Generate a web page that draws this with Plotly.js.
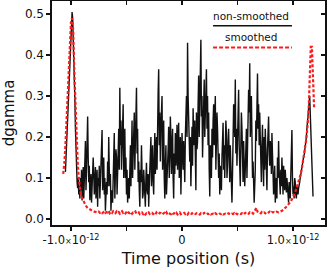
<!DOCTYPE html>
<html>
<head>
<meta charset="utf-8">
<script src="https://cdn.plot.ly/plotly-3.0.1.min.js"></script>
<style>html,body{margin:0;padding:0;background:#fff;}#chart{width:327px;height:268px;}</style>
</head>
<body>
<div id="chart"></div>
<script>
// Time positions in units of 1e-12 s (uniform sampling: start + step)
var rawStart = -1.05, rawStep = 0.005;
var smoothStart = -1.07, smoothStep = 0.01;

// non-smoothed dgamma
var rawValues = [
0.115,0.15,0.19,0.225,0.26,0.295,0.33,0.36,0.39,0.42,0.44,0.48,0.505,0.49,0.45,0.41,0.36,0.29,0.22,0.16,
0.12,0.09,0.075,0.1,0.06,0.08,0.05,0.1,0.07,0.12,0.045,0.08,0.127,0.05,0.08,0.14,0.19,0.07,0.12,0.2,
0.25,0.15,0.09,0.13,0.046,0.08,0.11,0.04,0.07,0.1,0.15,0.11,0.06,0.09,0.127,0.05,0.09,0.12,0.03,0.1,
0.08,0.13,0.05,0.09,0.12,0.16,0.217,0.07,0.11,0.15,0.06,0.1,0.02,0.05,0.09,0.06,0.14,0.08,0.20,0.12,
0.08,0.11,0.02,0.06,0.07,0.04,0.13,0.18,0.21,0.05,0.09,0.17,0.15,0.06,0.11,0.18,0.22,0.12,0.32,0.18,
0.24,0.12,0.2,0.25,0.28,0.1,0.17,0.22,0.1,0.15,0.06,0.12,0.04,0.08,0.1,0.05,0.14,0.18,0.08,0.16,
0.24,0.1,0.16,0.21,0.26,0.12,0.2,0.28,0.32,0.16,0.22,0.09,0.14,0.07,0.03,0.12,0.09,0.18,0.13,0.05,
0.06,0.12,0.09,0.05,0.03,0.1,0.137,0.07,0.06,0.11,0.03,0.08,0.12,0.16,0.2,0.08,0.14,0.18,0.09,0.06,
0.15,0.21,0.11,0.17,0.2,0.12,0.27,0.31,0.365,0.18,0.26,0.14,0.22,0.26,0.30,0.12,0.18,0.24,0.1,0.05,
0.13,0.18,0.06,0.09,0.12,0.17,0.225,0.1,0.15,0.25,0.2,0.11,0.17,0.22,0.1,0.05,0.16,0.11,0.21,0.13,
0.16,0.23,0.12,0.18,0.235,0.1,0.16,0.2,0.06,0.13,0.21,0.16,0.12,0.19,0.14,0.09,0.20,0.26,0.3,0.2,
0.43,0.3,0.25,0.17,0.14,0.2,0.08,0.15,0.225,0.13,0.27,0.2,0.18,0.24,0.13,0.07,0.26,0.17,0.19,0.28,
0.35,0.2,0.28,0.33,0.437,0.25,0.30,0.15,0.21,0.27,0.34,0.2,0.25,0.32,0.365,0.22,0.3,0.18,0.26,0.12,
0.055,0.18,0.14,0.1,0.22,0.15,0.24,0.28,0.18,0.24,0.30,0.12,0.18,0.26,0.22,0.15,0.10,0.16,0.06,0.13,
0.11,0.07,0.15,0.2,0.235,0.12,0.18,0.1,0.15,0.24,0.21,0.1,0.13,0.19,0.22,0.15,0.09,0.18,0.14,0.08,
0.04,0.11,0.17,0.28,0.25,0.2,0.34,0.16,0.22,0.13,0.19,0.26,0.315,0.18,0.13,0.08,0.18,0.26,0.22,0.14,
0.09,0.19,0.15,0.08,0.12,0.17,0.22,0.1,0.16,0.24,0.315,0.26,0.38,0.2,0.26,0.3,0.2,0.1,0.14,0.09,
0.04,0.08,0.12,0.24,0.19,0.27,0.355,0.22,0.28,0.18,0.26,0.2,0.15,0.09,0.18,0.23,0.14,0.08,0.2,0.12,
0.22,0.15,0.12,0.07,0.17,0.2,0.25,0.16,0.13,0.19,0.17,0.11,0.21,0.16,0.13,0.06,0.09,0.13,0.04,0.08,
0.1,0.05,0.15,0.1,0.19,0.12,0.09,0.06,0.12,0.08,0.15,0.1,0.06,0.13,0.11,0.07,0.12,0.09,0.065,0.1,
0.08,0.05,0.04,0.09,0.07,0.05,0.11,0.16,0.217,0.1,0.06,0.08,0.05,0.1,0.09,0.06,0.05,0.08,0.07,0.06,
0.075,0.08,0.09,0.1,0.11,0.12,0.125,0.13,0.14,0.15,0.155,0.165,0.175,0.19,0.2,0.22,0.24,0.26,0.285,0.295,
0.30,0.26,0.21,0.16,0.12,0.09,0.055
];

// smoothed dgamma
var smoothValues = [
0.11,0.135,0.18,0.235,0.30,0.37,0.43,0.48,0.49,0.46,
0.36,0.27,0.20,0.14,0.10,0.07,0.058,0.05,0.044,0.039,
0.034,0.030,0.027,0.025,0.023,0.021,0.020,0.019,0.018,0.017,
0.017,0.016,0.018,0.015,0.017,0.014,0.016,0.019,0.015,0.017,
0.016,0.020,0.014,0.017,0.015,0.019,0.016,0.014,0.018,0.015,
0.017,0.013,0.016,0.019,0.015,0.017,0.014,0.016,0.020,0.015,
0.014,0.017,0.013,0.016,0.015,0.018,0.013,0.015,0.016,0.012,
0.014,0.016,0.012,0.015,0.011,0.014,0.013,0.016,0.012,0.013,
0.015,0.012,0.014,0.011,0.016,0.013,0.012,0.015,0.014,0.011,
0.013,0.015,0.012,0.016,0.011,0.014,0.013,0.012,0.016,0.013,
0.014,0.012,0.015,0.011,0.013,0.016,0.012,0.014,0.013,0.015,
0.012,0.014,0.011,0.015,0.013,0.012,0.014,0.011,0.013,0.012,
0.014,0.012,0.013,0.011,0.014,0.012,0.013,0.015,0.012,0.011,
0.013,0.012,0.014,0.011,0.012,0.013,0.011,0.014,0.012,0.013,
0.011,0.013,0.012,0.014,0.011,0.012,0.013,0.011,0.012,0.014,
0.012,0.011,0.013,0.012,0.014,0.011,0.013,0.012,0.011,0.013,
0.012,0.014,0.011,0.013,0.015,0.012,0.014,0.013,0.016,0.014,
0.015,0.013,0.017,0.022,0.027,0.018,0.015,0.016,0.014,0.017,
0.015,0.016,0.014,0.017,0.015,0.016,0.018,0.015,0.017,0.016,
0.017,0.016,0.018,0.017,0.016,0.017,0.018,0.020,0.022,0.024,
0.027,0.030,0.033,0.036,0.039,0.043,0.048,0.053,0.059,0.066,
0.074,0.082,0.09,0.098,0.11,0.125,0.14,0.155,0.17,0.195,
0.225,0.26,0.34,0.42,0.42,0.33,0.27
];

var xTickVals = [-1, -0.5, 0, 0.5, 1];
var xTickText = ['-1.0<span style="font-size:8px">×</span>10<sup>-12</sup>', '', '0', '', '1.0<span style="font-size:8px">×</span>10<sup>-12</sup>'];
var yTickVals = [0, 0.1, 0.2, 0.3, 0.4, 0.5];
var yTickText = ['0.0', '0.1', '0.2', '0.3', '0.4', '0.5'];
var seriesNames = ['non-smoothed', 'smoothed'];

var FONT = 'DejaVu Sans, sans-serif';
var xRange = [-1.171, 1.288];
var yRange = [-0.0146, 0.5317];

var traces = [
  {x0: rawStart, dx: rawStep, y: rawValues, type: 'scatter', mode: 'lines',
   name: seriesNames[0], line: {color: '#111111', width: 1.4}, showlegend: false},
  {x0: smoothStart, dx: smoothStep, y: smoothValues, type: 'scatter', mode: 'lines',
   name: seriesNames[1], line: {color: '#ff1a1a', width: 2.2, dash: '3px,2px'}, showlegend: false},
  {x: [], y: [], xaxis: 'x2', yaxis: 'y2', type: 'scatter', showlegend: false, hoverinfo: 'skip'}
];

var layout = {
  width: 327, height: 268,
  margin: {l: 52, r: 2, t: 1, b: 43, pad: 0},
  paper_bgcolor: '#ffffff', plot_bgcolor: '#ffffff',
  font: {family: FONT, color: '#111111', size: 12},
  xaxis: {
    range: xRange, tickvals: xTickVals, ticktext: xTickText,
    ticks: 'outside', ticklen: 4, tickwidth: 1.3, tickcolor: '#111',
    showline: true, linecolor: '#111', linewidth: 1.6, mirror: true,
    showgrid: false, zeroline: false, tickfont: {size: 11.5, family: FONT},
    title: {text: 'Time position (s)', font: {size: 16, family: FONT}, standoff: 6}
  },
  yaxis: {
    range: yRange, tickvals: yTickVals, ticktext: yTickText,
    ticks: 'outside', ticklen: 4, tickwidth: 1.3, tickcolor: '#111',
    showline: true, linecolor: '#111', linewidth: 1.6, mirror: true,
    showgrid: false, zeroline: false, tickfont: {size: 12, family: FONT},
    title: {text: 'dgamma', font: {size: 15, family: FONT}, standoff: 8}
  },
  xaxis2: {
    overlaying: 'x', side: 'top', anchor: 'y2', range: xRange, tickvals: xTickVals,
    ticks: 'inside', ticklen: 4, tickwidth: 1.3, tickcolor: '#111',
    showticklabels: false, showgrid: false, zeroline: false, showline: false
  },
  yaxis2: {
    overlaying: 'y', side: 'right', anchor: 'x2', range: yRange, tickvals: yTickVals,
    ticks: 'inside', ticklen: 4, tickwidth: 1.3, tickcolor: '#111',
    showticklabels: false, showgrid: false, zeroline: false, showline: false
  },
  annotations: [
    {xref: 'paper', yref: 'paper', x: 0.73, y: 0.934, text: seriesNames[0], showarrow: false,
     font: {size: 10.5, family: FONT, color: '#111'}, xanchor: 'center', yanchor: 'middle'},
    {xref: 'paper', yref: 'paper', x: 0.73, y: 0.838, text: seriesNames[1], showarrow: false,
     font: {size: 10.5, family: FONT, color: '#111'}, xanchor: 'center', yanchor: 'middle'}
  ],
  shapes: [
    {type: 'line', xref: 'paper', yref: 'paper', x0: 0.590, x1: 0.879, y0: 0.890, y1: 0.890,
     line: {color: '#111', width: 1.5}},
    {type: 'line', xref: 'paper', yref: 'paper', x0: 0.590, x1: 0.879, y0: 0.792, y1: 0.792,
     line: {color: '#ff1a1a', width: 2, dash: '4px,2px'}}
  ]
};

Plotly.newPlot('chart', traces, layout, {staticPlot: true, displayModeBar: false});
</script>
</body>
</html>
